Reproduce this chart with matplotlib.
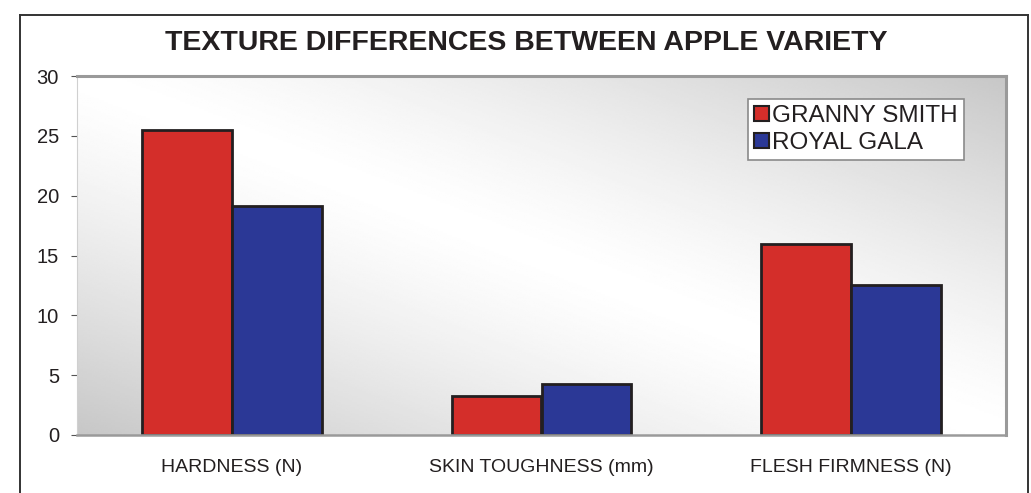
import numpy as np
import matplotlib
matplotlib.use("Agg")
import matplotlib.pyplot as plt
from matplotlib.patches import Patch
from matplotlib.lines import Line2D

categories = ["HARDNESS (N)", "SKIN TOUGHNESS (mm)", "FLESH FIRMNESS (N)"]
granny_smith = [25.5, 3.3, 16.0]
royal_gala = [19.1, 4.3, 12.5]
series = ["GRANNY SMITH", "ROYAL GALA"]
yticks = [0, 5, 10, 15, 20, 25, 30]

RED, BLUE, EDGE = "#d42e2a", "#2b3896", "#231f20"
FONT = ["Liberation Sans", "DejaVu Sans"]
TFONT = ["Liberation Sans Narrow", "Liberation Sans", "DejaVu Sans"]

fig = plt.figure(figsize=(10.31, 4.93), dpi=100)
ax = fig.add_axes([77 / 1031, 58 / 493, 929 / 1031, 359 / 493])

# diagonal gray-white-gray background gradient
u, v = np.meshgrid(np.linspace(0, 1, 400), np.linspace(1, 0, 200))
d = np.abs(u + v - 1)
grad = 1 - 0.22 * d ** 1.3
ax.imshow(grad, extent=[-0.5, 2.5, 0, 30], aspect="auto", cmap="gray",
          vmin=0, vmax=1, zorder=0, interpolation="bilinear")

x = np.arange(len(categories))
w = 0.29
ax.bar(x - w / 2, granny_smith, w, color=RED, edgecolor=EDGE, linewidth=2, zorder=2)
ax.bar(x + w / 2, royal_gala, w, color=BLUE, edgecolor=EDGE, linewidth=2, zorder=2)

ax.set_xlim(-0.5, 2.5)
ax.set_ylim(0, 30)
ax.set_yticks(yticks)
ax.set_yticklabels([str(t) for t in yticks], family=FONT, fontsize=14.5, color="#231f20")
ax.set_xticks(x)
ax.set_xticklabels(categories, family=FONT, fontsize=14, color="#231f20")
ax.tick_params(axis="x", length=0, pad=17)
ax.tick_params(axis="y", length=4, width=0.8, color="#555555", pad=9)

for side in ["top", "right"]:
    ax.spines[side].set_color("#9a9a9a")
    ax.spines[side].set_linewidth(2.2)
ax.spines["bottom"].set_color("#9a9a9a")
ax.spines["bottom"].set_linewidth(1.8)
ax.spines["left"].set_color("#d0d0d0")
ax.spines["left"].set_linewidth(0.8)

handles = [Patch(facecolor=RED, edgecolor=EDGE, linewidth=1.5),
           Patch(facecolor=BLUE, edgecolor=EDGE, linewidth=1.5)]
leg = ax.legend(handles, series, loc="upper left",
                bbox_to_anchor=(748 / 1031, 1 - 99 / 493), bbox_transform=fig.transFigure,
                prop={"family": FONT, "size": 17.5}, frameon=True, fancybox=False,
                framealpha=1, handlelength=0.6, handleheight=0.6, handletextpad=0.15,
                borderpad=0.25, labelspacing=0.2, borderaxespad=0)
leg.get_frame().set_edgecolor("#8a8a8a")
leg.get_frame().set_linewidth(1.2)
leg.get_frame().set_facecolor("white")
for t in leg.get_texts():
    t.set_color("#231f20")

fig.text(526 / 1031, 1 - 43 / 493, "TEXTURE DIFFERENCES BETWEEN APPLE VARIETY",
         ha="center", va="center", fontsize=20.5, fontweight="bold",
         family=TFONT, color="#231f20")

# outer frame (bottom edge is off the picture)
fx0, fx1, fy = 20 / 1031, 1028 / 1031, 1 - 15 / 493
for xs, ys in [([fx0, fx1], [fy, fy]), ([fx0, fx0], [fy, -0.1]), ([fx1, fx1], [fy, -0.1])]:
    fig.add_artist(Line2D(xs, ys, transform=fig.transFigure, color="#333333", lw=1.4))

fig.savefig("out.png", dpi=100)
